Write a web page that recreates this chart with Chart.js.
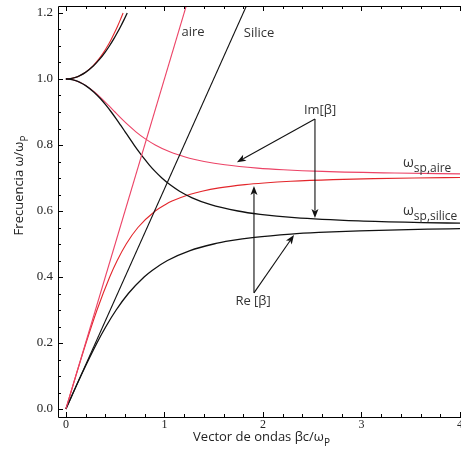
<!DOCTYPE html>
<html>
<head>
<meta charset="utf-8">
<script src="https://cdn.jsdelivr.net/npm/chart.js@4/dist/chart.umd.min.js"></script>
<style>
  html, body { margin: 0; padding: 0; background: #fff; }
  canvas { display: block; }
</style>
</head>
<body>
<canvas id="spp" width="461" height="457"></canvas>
<script>
// ejes
const xTicks = [0, 1, 2, 3, 4];
const yTicks = [0.0, 0.2, 0.4, 0.6, 0.8, 1.0, 1.2];

// líneas de luz (aire y sílice)
const luzAireX = [0, 1.5];
const luzAireY = [0, 1.5];
const luzSiliceX = [0, 2.25];
const luzSiliceY = [0, 1.5];

// aire: Re[β] rama inferior
const reAireX = [0, 0.1005, 0.2043, 0.3160, 0.4446, 0.5210, 0.6124, 0.7309, 0.9071, 1.0117, 1.0774, 1.2547, 1.3816, 1.5559, 1.8181, 2.0116, 2.2843, 2.7121, 3.1244, 3.5348, 4.0];
const reAireY = [0, 0.10, 0.20, 0.30, 0.40, 0.45, 0.50, 0.55, 0.60, 0.62, 0.63, 0.65, 0.66, 0.67, 0.68, 0.685, 0.69, 0.695, 0.698, 0.700, 0.7016];

// aire: Im[β]
const imAireX = [0, 0.0448, 0.1004, 0.1425, 0.2032, 0.2927, 0.3661, 0.4332, 0.4982, 0.5642, 0.6340, 0.7108, 0.7993, 0.9071, 1.0483, 1.2538, 1.4031, 1.6131, 1.9450, 2.2057, 2.6047, 3.3362, 4.0];
const imAireY = [1.0, 0.999, 0.995, 0.99, 0.98, 0.96, 0.94, 0.92, 0.90, 0.88, 0.86, 0.84, 0.82, 0.80, 0.78, 0.76, 0.75, 0.74, 0.73, 0.725, 0.72, 0.715, 0.7126];

// aire: rama superior
const supAireX = [0, 0.0447, 0.0996, 0.1404, 0.1972, 0.2755, 0.3337, 0.3816, 0.4230, 0.4599, 0.4934, 0.5244, 0.5533, 0.5805];
const supAireY = [1.0, 1.001, 1.005, 1.01, 1.02, 1.04, 1.06, 1.08, 1.10, 1.12, 1.14, 1.16, 1.18, 1.20];

// sílice: Re[β]
const reSiliceX = [0, 0.1517, 0.3151, 0.4067, 0.5103, 0.6339, 0.7937, 0.8753, 1.0309, 1.2602, 1.5, 1.6732, 1.9138, 2.2846, 2.5668, 2.9811, 3.6812, 4.0];
const reSiliceY = [0, 0.10, 0.20, 0.25, 0.30, 0.35, 0.40, 0.42, 0.45, 0.48, 0.50, 0.51, 0.52, 0.53, 0.535, 0.54, 0.545, 0.5465];

// sílice: Im[β]
const imSiliceX = [0, 0.0447, 0.1001, 0.1417, 0.2008, 0.2854, 0.3516, 0.4088, 0.4606, 0.5091, 0.5556, 0.6012, 0.6466, 0.6928, 0.7406, 0.7911, 0.8455, 0.9057, 0.9742, 1.0547, 1.1536, 1.2817, 1.4614, 1.7463, 1.9718, 2.3202, 2.9706, 3.6119, 4.0];
const imSiliceY = [1.0, 0.999, 0.995, 0.99, 0.98, 0.96, 0.94, 0.92, 0.90, 0.88, 0.86, 0.84, 0.82, 0.80, 0.78, 0.76, 0.74, 0.72, 0.70, 0.68, 0.66, 0.64, 0.62, 0.60, 0.59, 0.58, 0.57, 0.565, 0.5631];

// sílice: rama superior
const supSiliceX = [0, 0.0447, 0.0999, 0.1412, 0.1993, 0.2810, 0.3433, 0.3956, 0.4416, 0.4831, 0.5213, 0.5570, 0.5905, 0.6224];
const supSiliceY = [1.0, 1.001, 1.005, 1.01, 1.02, 1.04, 1.06, 1.08, 1.10, 1.12, 1.14, 1.16, 1.18, 1.20];

const ROJO = '#e3262b';
const ROSA = '#ec4366';
const NEGRO = '#111111';
const SERIF = '"Liberation Serif", "DejaVu Serif", serif';
const SANS = '"Open Sans", "Noto Sans", sans-serif';

// pares {x, y}
function pts(xs, ys) {
    return xs.map((x, i) => ({ x: x, y: ys[i] }));
}

function serie(xs, ys, color, width) {
    return {
        data: pts(xs, ys),
        borderColor: color,
        borderWidth: width,
        pointRadius: 0,
        fill: false,
        cubicInterpolationMode: 'monotone'
    };
}

// texto con subíndice
function textoSub(ctx, main, sub, x, y, size, subSize) {
    ctx.font = size + 'px ' + SANS;
    ctx.fillText(main, x, y);
    const w = ctx.measureText(main).width;
    ctx.font = subSize + 'px ' + SANS;
    ctx.fillText(sub, x + w, y + size * 0.35);
}

// flecha en coordenadas de datos
function flecha(ctx, sx, sy, x1, y1, x2, y2) {
    const ax = sx.getPixelForValue(x1), ay = sy.getPixelForValue(y1);
    const bx = sx.getPixelForValue(x2), by = sy.getPixelForValue(y2);
    const ang = Math.atan2(by - ay, bx - ax);
    const len = 9, half = 3.5;
    ctx.beginPath();
    ctx.moveTo(ax, ay);
    ctx.lineTo(bx - Math.cos(ang) * len * 0.8, by - Math.sin(ang) * len * 0.8);
    ctx.stroke();
    ctx.beginPath();
    ctx.moveTo(bx, by);
    ctx.lineTo(bx - Math.cos(ang) * len - Math.sin(ang) * half, by - Math.sin(ang) * len + Math.cos(ang) * half);
    ctx.lineTo(bx - Math.cos(ang) * len * 0.75, by - Math.sin(ang) * len * 0.75);
    ctx.lineTo(bx - Math.cos(ang) * len + Math.sin(ang) * half, by - Math.sin(ang) * len - Math.cos(ang) * half);
    ctx.closePath();
    ctx.fill();
}

// ejes, marcas y anotaciones
const ejesPlugin = {
    id: 'ejes',
    afterDraw: function (chart) {
        const ctx = chart.ctx;
        const a = chart.chartArea;
        const sx = chart.scales.x;
        const sy = chart.scales.y;
        ctx.save();

        // marco
        ctx.strokeStyle = '#000';
        ctx.lineWidth = 1;
        ctx.beginPath();
        ctx.moveTo(a.left + 0.5, a.top + 0.5);
        ctx.lineTo(a.left + 0.5, a.bottom + 0.5);
        ctx.lineTo(a.right + 1, a.bottom + 0.5);
        ctx.moveTo(a.left + 0.5, a.top + 0.5);
        ctx.lineTo(a.right + 1, a.top + 0.5);
        ctx.stroke();

        // marcas x (cada 0.2)
        ctx.beginPath();
        for (let i = 0; i <= 20; i++) {
            const v = i * 0.2;
            const px = Math.round(sx.getPixelForValue(v)) + 0.5;
            const l = (i % 5 === 0) ? 5 : 3;
            ctx.moveTo(px, a.bottom);
            ctx.lineTo(px, a.bottom - l);
            ctx.moveTo(px, a.top);
            ctx.lineTo(px, a.top + l);
        }
        // marcas y (cada 0.05)
        for (let i = 0; i <= 24; i++) {
            const v = i * 0.05;
            const py = Math.round(sy.getPixelForValue(v)) + 0.5;
            const l = (i % 4 === 0) ? 5 : 3;
            ctx.moveTo(a.left, py);
            ctx.lineTo(a.left + l, py);
        }
        ctx.stroke();

        // etiquetas
        ctx.fillStyle = '#222';
        ctx.font = '13px ' + SERIF;
        ctx.textBaseline = 'middle';
        ctx.textAlign = 'right';
        yTicks.forEach(v => {
            ctx.fillText(v.toFixed(1), a.left - 5, sy.getPixelForValue(v));
        });
        ctx.font = '12px ' + SERIF;
        ctx.textAlign = 'center';
        xTicks.forEach(v => {
            ctx.fillText(String(v), sx.getPixelForValue(v), a.bottom + 8);
        });

        // títulos de ejes
        ctx.fillStyle = '#222';
        ctx.textBaseline = 'alphabetic';
        ctx.textAlign = 'left';
        ctx.font = '13px ' + SANS;
        const tx = 'Vector de ondas βc/ω';
        const wx = ctx.measureText(tx).width + 7;
        textoSub(ctx, tx, 'P', 262 - wx / 2, 441, 13, 10);

        ctx.save();
        ctx.translate(23, 185);
        ctx.rotate(-Math.PI / 2);
        ctx.font = '13px ' + SANS;
        const ty = 'Frecuencia ω/ω';
        const wy = ctx.measureText(ty).width + 7;
        textoSub(ctx, ty, 'P', -wy / 2, 0, 13, 10);
        ctx.restore();

        // anotaciones
        ctx.fillStyle = '#333';
        ctx.font = '13px ' + SANS;
        ctx.textAlign = 'center';
        ctx.textBaseline = 'middle';
        ctx.fillText('aire', sx.getPixelForValue(1.29), sy.getPixelForValue(1.142));
        ctx.fillText('Silice', sx.getPixelForValue(1.96), sy.getPixelForValue(1.139));
        ctx.fillText('Im[β]', sx.getPixelForValue(2.58), sy.getPixelForValue(0.906));
        ctx.fillText('Re [β]', sx.getPixelForValue(1.90), sy.getPixelForValue(0.326));

        ctx.textAlign = 'left';
        ctx.textBaseline = 'alphabetic';
        textoSub(ctx, 'ω', 'sp,aire', 403, 167, 14, 12);
        textoSub(ctx, 'ω', 'sp,silice', 403, 215, 14, 12);

        ctx.strokeStyle = '#111';
        ctx.fillStyle = '#111';
        ctx.lineWidth = 1.1;
        flecha(ctx, sx, sy, 2.528, 0.879, 1.736, 0.748);
        flecha(ctx, sx, sy, 2.528, 0.879, 2.528, 0.579);
        flecha(ctx, sx, sy, 1.909, 0.352, 1.909, 0.676);
        flecha(ctx, sx, sy, 1.909, 0.352, 2.315, 0.527);

        ctx.restore();
    }
};

new Chart(document.getElementById('spp'), {
    type: 'line',
    data: {
        datasets: [
            serie(luzAireX, luzAireY, ROSA, 1.1),
            serie(luzSiliceX, luzSiliceY, NEGRO, 1.1),
            serie(reSiliceX, reSiliceY, NEGRO, 1.3),
            serie(imSiliceX, imSiliceY, NEGRO, 1.3),
            serie(supSiliceX, supSiliceY, NEGRO, 1.3),
            serie(reAireX, reAireY, ROJO, 1.1),
            serie(imAireX, imAireY, ROSA, 1.1),
            serie(supAireX, supAireY, ROJO, 1.1)
        ]
    },
    options: {
        responsive: false,
        devicePixelRatio: 1,
        animation: false,
        layout: {
            padding: { left: 58, right: 1, top: 6, bottom: 40 }
        },
        plugins: {
            legend: { display: false },
            tooltip: { enabled: false }
        },
        scales: {
            x: { type: 'linear', min: -0.08, max: 4.0, display: false },
            y: { type: 'linear', min: -0.0242, max: 1.2212, display: false }
        }
    },
    plugins: [ejesPlugin]
});
</script>
</body>
</html>
